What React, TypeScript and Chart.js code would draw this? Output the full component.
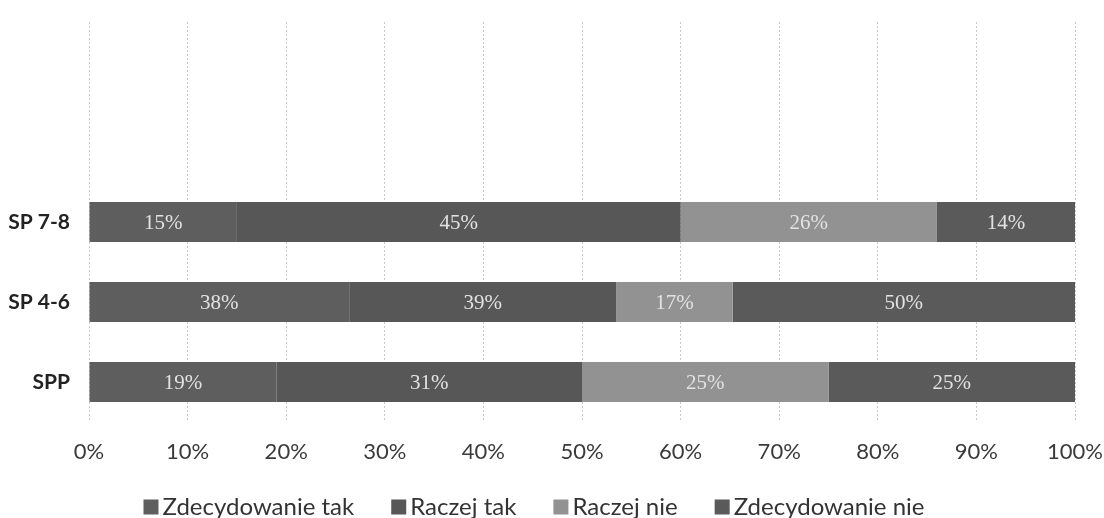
import React, { useEffect, useRef } from "react";
import { Chart, registerables } from "chart.js";

Chart.register(...registerables);

// Two empty slots at the top reproduce the original empty band above the bars
const categories = ["", "", "SP 7-8", "SP 4-6", "SPP"];
const seriesNames = ["Zdecydowanie tak", "Raczej tak", "Raczej nie", "Zdecydowanie nie"];
const zdecydowanieTak: (number | null)[] = [null, null, 15, 38, 19];
const raczejTak: (number | null)[] = [null, null, 45, 39, 31];
const raczejNie: (number | null)[] = [null, null, 26, 17, 25];
const zdecydowanieNie: (number | null)[] = [null, null, 14, 50, 25];
const xTicks = [0, 10, 20, 30, 40, 50, 60, 70, 80, 90, 100];

const seriesColors = ["#5e5e5e", "#575757", "#929292", "#5a5a5a"];
const rawSeries = [zdecydowanieTak, raczejTak, raczejNie, zdecydowanieNie];

const rowTotals = categories.map((_, i) =>
  rawSeries.reduce((s, arr) => s + (arr[i] ?? 0), 0)
);

const valueLabelPlugin = {
  id: "valueLabels",
  afterDatasetsDraw(chart: any) {
    const ctx = chart.ctx;
    ctx.save();
    ctx.font = '21px "Liberation Serif", serif';
    ctx.fillStyle = "#e2e2e2";
    ctx.textAlign = "center";
    ctx.textBaseline = "middle";
    chart.data.datasets.forEach((ds: any, di: number) => {
      const meta = chart.getDatasetMeta(di);
      meta.data.forEach((el: any, i: number) => {
        const raw = rawSeries[di][i];
        if (raw == null) return;
        const cx = (el.x + el.base) / 2;
        ctx.fillText(raw + "%", cx, el.y + 1);
      });
    });
    ctx.restore();
  },
};

const legendPlugin = {
  id: "customLegend",
  afterDraw(chart: any) {
    const ctx = chart.ctx;
    ctx.save();
    ctx.font = '24px Lato, sans-serif';
    ctx.textBaseline = "middle";
    const box = 15;
    const gap = 4;
    const itemGap = 37;
    const widths = seriesNames.map((n) => ctx.measureText(n).width);
    const total =
      widths.reduce((s, w) => s + box + gap + w, 0) + itemGap * (seriesNames.length - 1);
    let x = 534 - total / 2;
    const cy = 507;
    seriesNames.forEach((n, i) => {
      ctx.fillStyle = seriesColors[i];
      ctx.fillRect(x, cy - box / 2, box, box);
      ctx.fillStyle = "#333333";
      ctx.fillText(n, x + box + gap, cy);
      x += box + gap + widths[i] + itemGap;
    });
    ctx.restore();
  },
};

export default function App() {
  const ref = useRef<HTMLCanvasElement | null>(null);
  useEffect(() => {
    if (!ref.current) return;
    const chart = new Chart(ref.current, {
      type: "bar",
      data: {
        labels: categories,
        datasets: rawSeries.map((arr, di) => ({
          label: seriesNames[di],
          data: arr.map((v, i) => (v == null ? null : (v / rowTotals[i]) * 100)),
          backgroundColor: seriesColors[di],
          borderWidth: 0,
          categoryPercentage: 1,
          barPercentage: 0.5,
        })),
      },
      options: {
        indexAxis: "y",
        animation: false,
        responsive: false,
        maintainAspectRatio: false,
        layout: { padding: { left: 0, right: 29, top: 22, bottom: 46 } },
        plugins: {
          legend: { display: false },
          tooltip: { enabled: false },
          title: { display: false },
        },
        scales: {
          x: {
            stacked: true,
            min: 0,
            max: 100,
            afterBuildTicks: (scale: any) => {
              scale.ticks = xTicks.map((v) => ({ value: v }));
            },
            afterFit: (scale: any) => {
              scale.height = 50;
              scale.paddingLeft = 0;
              scale.paddingRight = 0;
              scale.paddingTop = 0;
              scale.paddingBottom = 0;
            },
            grid: {
              display: true,
              color: "#c8c8c8",
              lineWidth: 1,
              drawTicks: false,
            },
            border: { display: false, dash: [2, 2] },
            ticks: {
              padding: 17,
              maxRotation: 0,
              color: "#3a3a3a",
              font: { family: "Lato, sans-serif", size: 22 },
              callback: (v: any) => v + "%",
            },
          },
          y: {
            stacked: true,
            afterFit: (scale: any) => {
              scale.width = 89;
              scale.paddingLeft = 0;
              scale.paddingRight = 0;
              scale.paddingTop = 0;
              scale.paddingBottom = 0;
            },
            grid: { display: false, drawTicks: false },
            border: { display: false },
            ticks: {
              padding: 19,
              color: "#222222",
              font: { family: "Lato, sans-serif", size: 21, weight: "bold" },
            },
          },
        },
      } as any,
      plugins: [valueLabelPlugin, legendPlugin],
    });
    (chart.options.scales as any).x.border.dash = [2, 2];
    chart.update();
    return () => chart.destroy();
  }, []);
  return (
    <div style={{ position: "fixed", left: 0, top: 0, width: 1104, height: 518, background: "#ffffff" }}>
      <canvas ref={ref} width={1104} height={518} style={{ width: 1104, height: 518 }} />
    </div>
  );
}
